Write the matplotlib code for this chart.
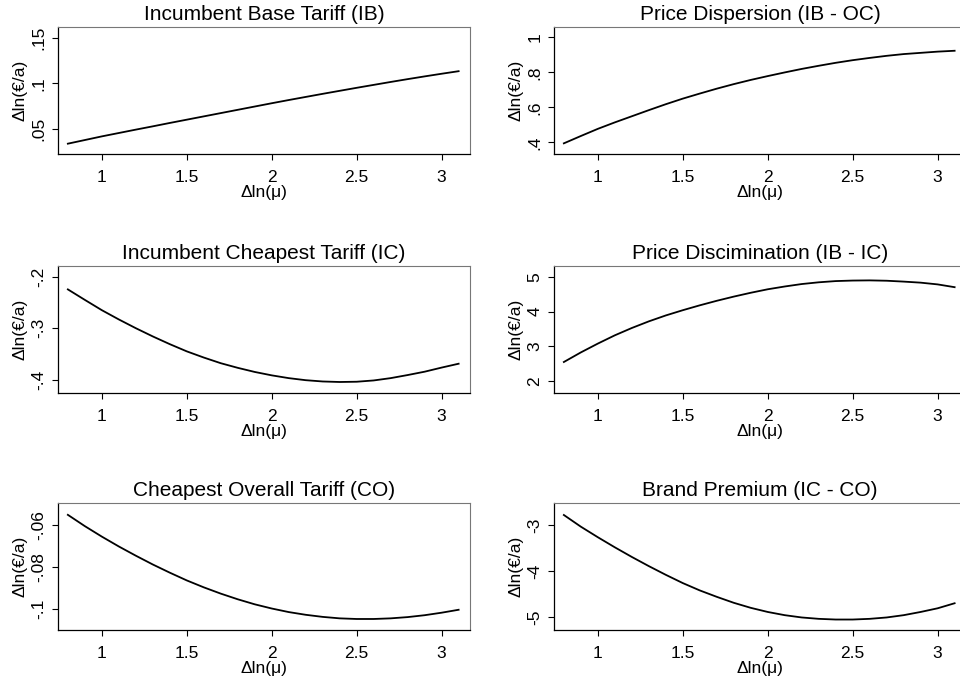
import matplotlib
matplotlib.use('Agg')
import matplotlib.pyplot as plt

plt.rcParams['font.family'] = ['Liberation Sans', 'DejaVu Sans']

# x grid
mu = [0.8, 0.9, 1.0, 1.1, 1.2, 1.3, 1.4, 1.5, 1.6, 1.7, 1.8, 1.9,
      2.0, 2.1, 2.2, 2.3, 2.4, 2.5, 2.6, 2.7, 2.8, 2.9, 3.0, 3.1]

# curves, one per panel
ib = [0.034, 0.038, 0.042, 0.0457, 0.0494, 0.053, 0.0567, 0.0603, 0.0639, 0.0675, 0.0711, 0.0747,
      0.0783, 0.0818, 0.0852, 0.0886, 0.0919, 0.0952, 0.0984, 0.1016, 0.1047, 0.1077, 0.1106, 0.1134]
ib_oc = [0.394, 0.436, 0.477, 0.514, 0.549, 0.584, 0.618, 0.650, 0.679, 0.707, 0.733, 0.757,
         0.779, 0.800, 0.820, 0.838, 0.855, 0.870, 0.883, 0.895, 0.905, 0.912, 0.919, 0.924]
ic = [-0.2246, -0.245, -0.265, -0.283, -0.300, -0.316, -0.331, -0.345, -0.357, -0.368, -0.377, -0.385,
      -0.3916, -0.397, -0.401, -0.4035, -0.4045, -0.404, -0.4015, -0.397, -0.391, -0.3845, -0.3765, -0.369]
ib_ic = [2.555, 2.83, 3.083, 3.32, 3.53, 3.72, 3.89, 4.04, 4.18, 4.31, 4.43, 4.54,
         4.64, 4.72, 4.79, 4.84, 4.875, 4.89, 4.895, 4.885, 4.86, 4.83, 4.78, 4.70]
co = [-0.0552, -0.0606, -0.0656, -0.0703, -0.0747, -0.0789, -0.0828, -0.0865, -0.0898, -0.0928, -0.0955, -0.0979,
      -0.0999, -0.1016, -0.1029, -0.1039, -0.1046, -0.1049, -0.1049, -0.1046, -0.1040, -0.1031, -0.1019, -0.1005]
ic_co = [-2.775, -3.03, -3.26, -3.48, -3.69, -3.89, -4.08, -4.26, -4.42, -4.56, -4.69, -4.80,
         -4.89, -4.96, -5.01, -5.04, -5.055, -5.055, -5.04, -5.01, -4.96, -4.89, -4.81, -4.70]

titles = ['Incumbent Base Tariff (IB)', 'Price Dispersion (IB - OC)',
          'Incumbent Cheapest Tariff (IC)', 'Price Discimination (IB - IC)',
          'Cheapest Overall Tariff (CO)', 'Brand Premium (IC - CO)']
series = [ib, ib_oc, ic, ib_ic, co, ic_co]

yticks = [[0.05, 0.1, 0.15], [0.4, 0.6, 0.8, 1.0],
          [-0.4, -0.3, -0.2], [2, 3, 4, 5],
          [-0.1, -0.08, -0.06], [-5, -4, -3]]
yticklabels = [['.05', '.1', '.15'], ['.4', '.6', '.8', '1'],
               ['-.4', '-.3', '-.2'], ['2', '3', '4', '5'],
               ['-.1', '-.08', '-.06'], ['-5', '-4', '-3']]
ylims = [(0.0227, 0.1618), (0.333, 1.06),
         (-0.4253, -0.1786), (1.675, 5.316),
         (-0.1103, -0.0497), (-5.29, -2.52)]
xticks = [1, 1.5, 2, 2.5, 3]
xticklabels = ['1', '1.5', '2', '2.5', '3']

fig = plt.figure(figsize=(9.6, 6.84), dpi=100)
W, H = 960.0, 684.0
col_left = [58, 554]
col_width = 412
row_top = [27, 265.7, 503.3]
row_height = 127

for k in range(6):
    r, c = divmod(k, 2)
    ax = fig.add_axes([col_left[c] / W, 1 - (row_top[r] + row_height) / H,
                       col_width / W, row_height / H])
    ax.plot(mu, series[k], color='black', lw=1.3)
    ax.set_xlim(0.742, 3.167)
    ax.set_ylim(*ylims[k])
    ax.set_xticks(xticks)
    ax.set_xticklabels(xticklabels)
    ax.set_yticks(yticks[k])
    ax.set_yticklabels(yticklabels[k], rotation=90, va='center')
    ax.tick_params(direction='out', length=4.5, width=0.8, labelsize=12.5)
    ax.tick_params(axis='x', pad=7)
    ax.tick_params(axis='y', pad=4)
    for s in ['top', 'right']:
        ax.spines[s].set_color('#777777')
        ax.spines[s].set_linewidth(0.8)
    for s in ['left', 'bottom']:
        ax.spines[s].set_color('black')
        ax.spines[s].set_linewidth(0.9)
    ax.set_title(titles[k], fontsize=15, pad=5)
    ax.set_xlabel('Δln(μ)', fontsize=12.5, labelpad=0)
    ax.set_ylabel('Δln(€/a)', fontsize=12.5, labelpad=3)

fig.savefig('out.png', dpi=100, facecolor='white')
